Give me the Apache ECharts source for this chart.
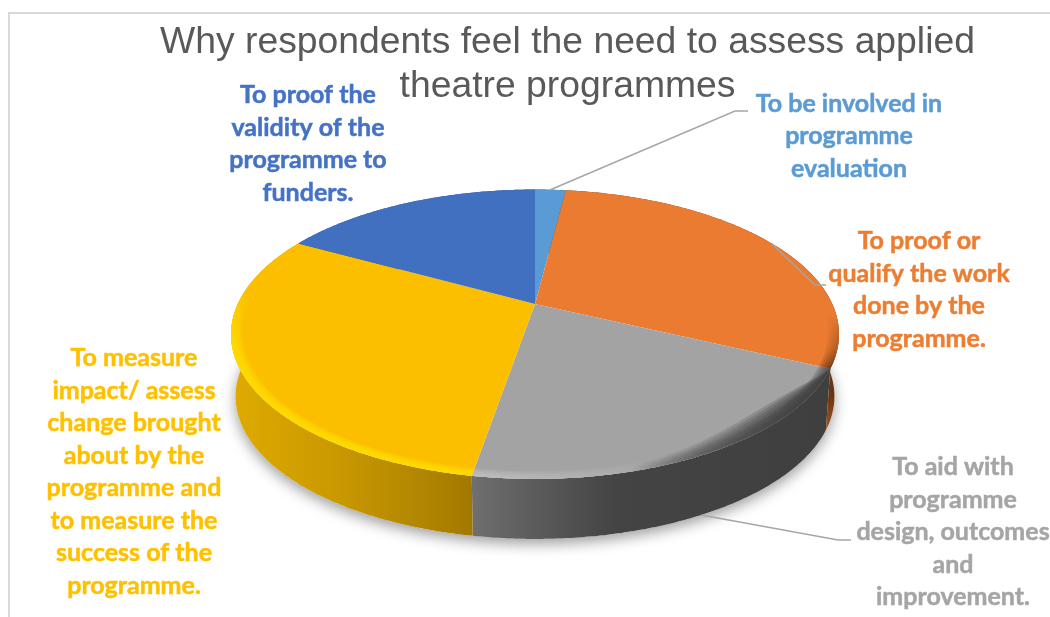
<!DOCTYPE html>
<html>
<head>
<meta charset="utf-8">
<style>html,body{margin:0;padding:0;background:#fff}#chart{width:1050px;height:617px}</style>
<script src="https://cdn.jsdelivr.net/npm/echarts@6/dist/echarts.min.js"></script>
</head>
<body>
<div id="chart"></div>
<script>
const chartTitle = 'Why respondents feel the need to assess applied\ntheatre programmes';
const categories = [
  'To be involved in\nprogramme\nevaluation',
  'To proof or\nqualify the work\ndone by the\nprogramme.',
  'To aid with\nprogramme\ndesign, outcomes\nand\nimprovement.',
  'To measure\nimpact/ assess\nchange brought\nabout by the\nprogramme and\nto measure the\nsuccess of the\nprogramme.',
  'To proof the\nvalidity of the\nprogramme to\nfunders.'
];
const shares = [2, 30, 20.7, 30.3, 17];
const faceColors = ['#5b9bd5', '#ea7b31', '#a3a3a3', '#fbbf00', '#4270c0'];
const labelColors = ['#5b9bd5', '#ed7d31', '#a5a5a5', '#ffc000', '#4472c4'];

// Label centres and leader elbows, in page pixels.
const labelCenters = [[849, 136], [919, 290], [953, 532], [134, 472], [308, 144]];
const leaderElbows = [[[735, 111], [748, 111]], [[815, 285], [826, 285]], [[838, 540], [851, 540]], null, null];

// Perspective disc: apex of the wedges sits above the centre of the drawn ellipse.
const disc = { cx: 535, cy: 304, a: 297.3, s: 138.4, k: 0.209, drop: 62.6, floor: 0.985 };

function topPoint(t, r) {
  const u = r * Math.sin(t), v = -r * Math.cos(t), w = 1 - disc.k * v;
  return [disc.cx + disc.a * u / w, disc.cy + disc.s * v / w];
}
function floorPoint(t) {
  const p = topPoint(t, 1);
  return [disc.cx + (p[0] - disc.cx) * disc.floor, disc.cy + (p[1] - disc.cy) * disc.floor + disc.drop];
}
function arc(a0, a1, fn) {
  const n = Math.max(4, Math.ceil((a1 - a0) / 0.01)), pts = [];
  for (let i = 0; i <= n; i++) pts.push(fn(a0 + (a1 - a0) * i / n));
  return pts;
}
const total = shares.reduce((a, b) => a + b, 0);
const angles = [0];
shares.forEach((s, i) => angles.push(angles[i] + s / total * Math.PI * 2));

const Linear = echarts.graphic.LinearGradient;
const hGrad = (x0, x1, stops) => new Linear(x0, 0, x1, 0, stops.map(s => ({ offset: s[0], color: s[1] })), true);
const vGrad = (y0, y1, stops) => new Linear(0, y0, 0, y1, stops.map(s => ({ offset: s[0], color: s[1] })), true);

const rimFill = [
  '#4a4a4a',
  vGrad(340, 440, [[0, '#5d2f10'], [0.55, '#6b3612'], [1, '#b05a1c']]),
  hGrad(470, 830, [[0, '#707070'], [0.12, '#626262'], [0.4, '#444444'], [1, '#3f3f3f']]),
  hGrad(232, 472, [[0, '#dfaa00'], [0.45, '#c99800'], [0.8, '#b08500'], [1, '#a27900']]),
  '#2f5597'
];
const bevelFill = [
  null,
  vGrad(315, 372, [[0, 'rgba(110,55,15,0)'], [0.6, 'rgba(120,60,18,0.4)'], [1, 'rgba(90,45,14,0.95)']]),
  hGrad(472, 830, [[0, '#c2c2c2'], [0.45, '#ababab'], [0.7, '#8c8c8c'], [0.9, '#626262'], [1, '#474747']]),
  vGrad(290, 345, [[0, 'rgba(255,220,0,0)'], [0.7, 'rgba(255,216,0,0.9)'], [1, '#ffe000']]),
  null
];
const bevelSteps = [0.965, 0.972, 0.979, 0.986, 0.993];

// The grey wedge's outer edge falls into shadow as it turns away to the right;
// the shaded band swells towards the lower right and tapers at the wedge's corner.
const greyShade = hGrad(630, 790, [[0, 'rgba(63,63,63,0)'], [0.55, 'rgba(63,63,63,0.55)'], [1, 'rgba(63,63,63,0.95)']]);
const greyShadeDepths = [0.075, 0.065, 0.055, 0.045, 0.035, 0.02];

function band(a0, a1, rOf) {
  return arc(a0, a1, t => topPoint(t, 1)).concat(arc(a0, a1, t => topPoint(t, rOf(t))).reverse());
}

function renderSlice(params) {
  const i = params.dataIndex, a0 = angles[i], a1 = angles[i + 1], mid = (a0 + a1) / 2;
  const kids = [];
  if (i === 0) {
    // Soft shadow cast under the whole disc.
    kids.push({
      type: 'polygon', z2: 0, shape: { points: arc(0, Math.PI * 2, floorPoint) },
      style: { fill: '#ffffff', shadowColor: 'rgba(0,0,0,0.38)', shadowBlur: 14, shadowOffsetY: 5 }
    });
  }
  const rim = arc(a0, a1, t => topPoint(t, 1)).concat(arc(a0, a1, floorPoint).reverse());
  kids.push({ type: 'polygon', z2: 1, shape: { points: rim }, style: { fill: rimFill[i] } });
  const face = [[disc.cx, disc.cy]].concat(arc(a0, a1, t => topPoint(t, 1)));
  kids.push({ type: 'polygon', z2: 2, shape: { points: face }, style: { fill: faceColors[i] } });
  if (bevelFill[i]) {
    bevelSteps.forEach((r, n) => {
      kids.push({ type: 'polygon', z2: 3 + n, shape: { points: band(a0, a1, () => r) }, style: { fill: bevelFill[i], opacity: 0.3 } });
    });
  }
  if (i === 2) {
    greyShadeDepths.forEach(d => {
      const rOf = t => {
        const p = (a1 - t) / (a1 - a0);
        return 1 - d * Math.sin(Math.PI * p * p);
      };
      kids.push({ type: 'polygon', z2: 8, shape: { points: band(a0, a1, rOf) }, style: { fill: greyShade, opacity: 0.3 } });
    });
  }
  if (leaderElbows[i]) {
    const start = mid > Math.PI / 2 ? floorPoint(mid) : topPoint(mid, 1);
    kids.push({
      type: 'polyline', z2: 10, shape: { points: [start].concat(leaderElbows[i]) },
      style: { stroke: '#a6a6a6', lineWidth: 1.5, fill: 'none' }
    });
  }
  kids.push({
    type: 'text', z2: 11, x: labelCenters[i][0], y: labelCenters[i][1],
    style: {
      text: categories[i], fill: labelColors[i], fontFamily: 'Lato', fontWeight: 'bold', fontSize: 25,
      stroke: labelColors[i], lineWidth: 0.5,
      lineHeight: 32.5, align: 'center', verticalAlign: 'middle'
    }
  });
  return { type: 'group', children: kids };
}

const chart = echarts.init(document.getElementById('chart'), null, { renderer: 'canvas' });
chart.setOption({
  animation: false,
  backgroundColor: '#ffffff',
  title: {
    text: chartTitle, left: 562.5, top: 16, textAlign: 'center',
    textStyle: { fontFamily: 'Liberation Sans', fontWeight: 'normal', fontSize: 37.3, lineHeight: 43.5, color: '#595959' }
  },
  graphic: [{
    type: 'rect', silent: true, z: -1,
    shape: { x: 9, y: 13, width: 1060, height: 640 },
    style: { fill: 'none', stroke: '#d9d9d9', lineWidth: 2 }
  }],
  series: [{
    type: 'custom', coordinateSystem: 'none', silent: true,
    data: shares, renderItem: renderSlice
  }]
});
</script>
</body>
</html>
